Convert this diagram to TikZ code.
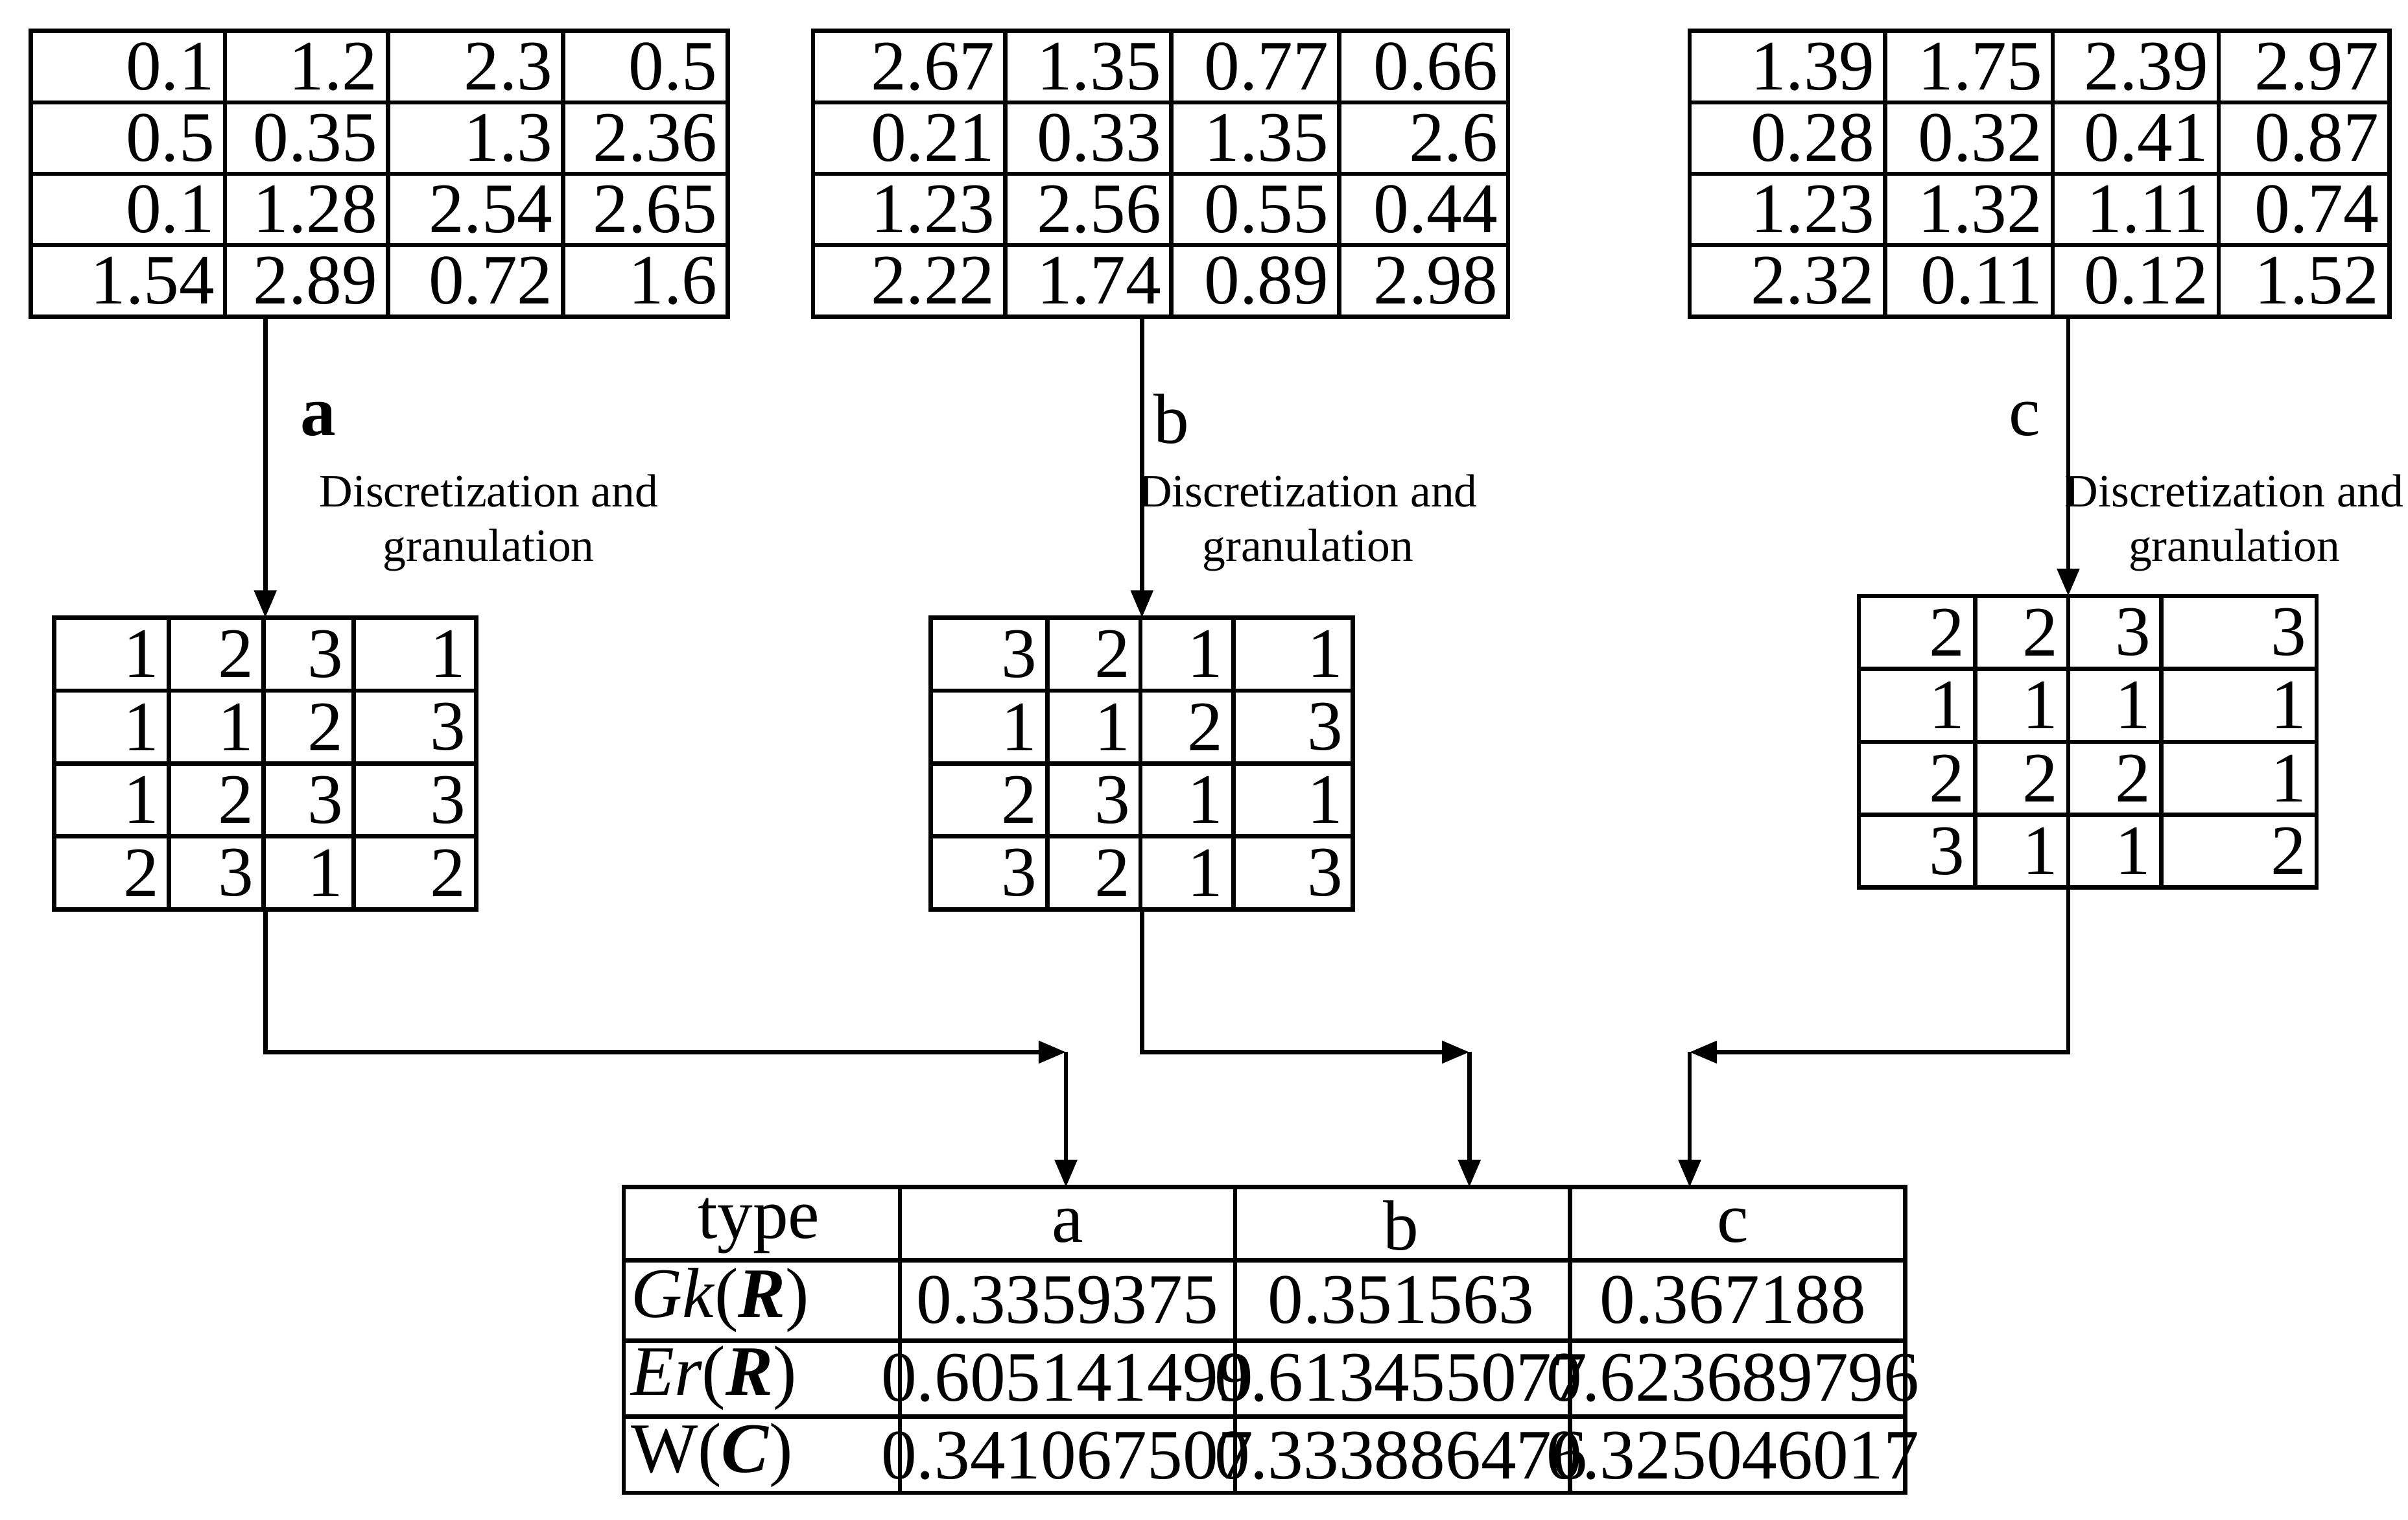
\documentclass[tikz,border=0pt]{standalone}
\usepackage{fontspec}
\setmainfont{Liberation Serif}
\usetikzlibrary{arrows.meta,positioning}
\tikzset{>={Triangle[length=5pt,width=4pt]},
  grid/.style={line width=0.8pt},
  cell/.style={inner sep=0pt,font=\fontsize{13}{15}\selectfont},
  lab/.style={font=\fontsize{8.5}{10}\selectfont,align=center},
  flow/.style={line width=0.8pt,->}}
% #1 name, #2 column edges, #3 top, #4 bottom, #5 row height, #6 data
\newcommand{\numtab}[6]{%
  \pgfmathsetmacro{\xa}{#2[0]}
  \pgfmathsetmacro{\xb}{#2[4]}
  \draw[grid] (\xa,#3) rectangle (\xb,#4);
  \foreach \k in {1,2,3}{
    \pgfmathsetmacro{\xl}{#2[\k]}
    \pgfmathsetmacro{\yl}{#3+\k*#5}
    \draw[grid] (\xl,#3) -- (\xl,#4);
    \draw[grid] (\xa,\yl) -- (\xb,\yl);}
  \foreach \row [count=\r] in {#6}{
    \foreach \v [count=\c] in \row {
      \pgfmathsetmacro{\xr}{#2[\c]-6}
      \pgfmathsetmacro{\yr}{#3+\r*#5-#5/2}
      \node[cell,anchor=east] (#1-\r-\c) at (\xr,\yr) {\v};}}}
\begin{document}
\begin{tikzpicture}[x=0.01cm,y=-0.01cm]
  \useasboundingbox (0,0) rectangle (1552,979.5);
  % raw tables
  \numtab{ra}{{20,145,250,363,469}}{20}{204}{46}{{0.1,1.2,2.3,0.5},{0.5,0.35,1.3,2.36},{0.1,1.28,2.54,2.65},{1.54,2.89,0.72,1.6}}
  \numtab{rb}{{524,648,755,863,972}}{20}{204}{46}{{2.67,1.35,0.77,0.66},{0.21,0.33,1.35,2.6},{1.23,2.56,0.55,0.44},{2.22,1.74,0.89,2.98}}
  \numtab{rc}{{1089,1215,1323,1430,1540}}{20}{204}{46}{{1.39,1.75,2.39,2.97},{0.28,0.32,0.41,0.87},{1.23,1.32,1.11,0.74},{2.32,0.11,0.12,1.52}}
  % granulated tables
  \numtab{ga}{{35,109,170,228,307}}{398}{586}{47}{{1,2,3,1},{1,1,2,3},{1,2,3,3},{2,3,1,2}}
  \numtab{gb}{{600,675,735,795,872}}{398}{586}{47}{{3,2,1,1},{1,1,2,3},{2,3,1,1},{3,2,1,3}}
  \numtab{gc}{{1198,1273,1333,1393,1493}}{384}{572}{47}{{2,2,3,3},{1,1,1,1},{2,2,2,1},{3,1,1,2}}

  % connection points
  \coordinate (ra-out) at (171,204);  \coordinate (ga-in) at (171,398);
  \coordinate (rb-out) at (736,204);  \coordinate (gb-in) at (736,398);
  \coordinate (rc-out) at (1333,204); \coordinate (gc-in) at (1333,384);
  \coordinate (ga-out) at (171,586);  \coordinate (ja) at (687,678);
  \coordinate (gb-out) at (736,586);  \coordinate (jb) at (947,678);
  \coordinate (gc-out) at (1333,572); \coordinate (jc) at (1089,678);
  \coordinate (ea) at (687,765); \coordinate (eb) at (947,765); \coordinate (ec) at (1089,765);

  \draw[flow] (ra-out) -- (ga-in);
  \draw[flow] (rb-out) -- (gb-in);
  \draw[flow] (rc-out) -- (gc-in);
  \node[font=\fontsize{13}{15}\selectfont\bfseries] (la) at (205,270) {a};
  \node[font=\fontsize{13}{15}\selectfont] (lb) at (755,270) {b};
  \node[font=\fontsize{13}{15}\selectfont] (lc) at (1305,270) {c};
  \node[lab] (da) at (315,337) {Discretization and\\granulation};
  \node[lab] (db) at (843,337) {Discretization and\\granulation};
  \node[lab] (dc) at (1440,337) {Discretization and\\granulation};

  \draw[flow] (ga-out) |- (ja);
  \draw[flow] (gb-out) |- (jb);
  \draw[flow] (gc-out) |- (jc);
  \draw[flow] (ja) -- (ea);
  \draw[flow] (jb) -- (eb);
  \draw[flow] (jc) -- (ec);

  % result table
  \draw[grid] (402,765) rectangle (1228,962);
  \foreach \xl in {580,796,1012} \draw[grid] (\xl,765) -- (\xl,962);
  \foreach \yl in {812,864,913} \draw[grid] (402,\yl) -- (1228,\yl);
  \node[cell] (h0) at (489,790) {type};
  \node[cell] (h1) at (688,790) {a};
  \node[cell] (h2) at (903,790) {b};
  \node[cell] (h3) at (1117,790) {c};
  \node[cell,anchor=west] (r1) at (406,838) {\textit{Gk}(\textbf{\textit{R}})};
  \node[cell,anchor=west] (r2) at (406,888) {\textit{Er}(\textbf{\textit{R}})};
  \node[cell,anchor=west] (r3) at (406,938) {W(\textbf{\textit{C}})};
  \foreach \yc/\va/\vb/\vc in {838/0.3359375/0.351563/0.367188,
      888/0.605141499/0.613455077/0.623689796,
      938/0.341067507/0.333886476/0.325046017}{
    \node[cell] at (688,\yc) {\va};
    \node[cell] at (903,\yc) {\vb};
    \node[cell] at (1117,\yc) {\vc};}
\end{tikzpicture}
\end{document}
